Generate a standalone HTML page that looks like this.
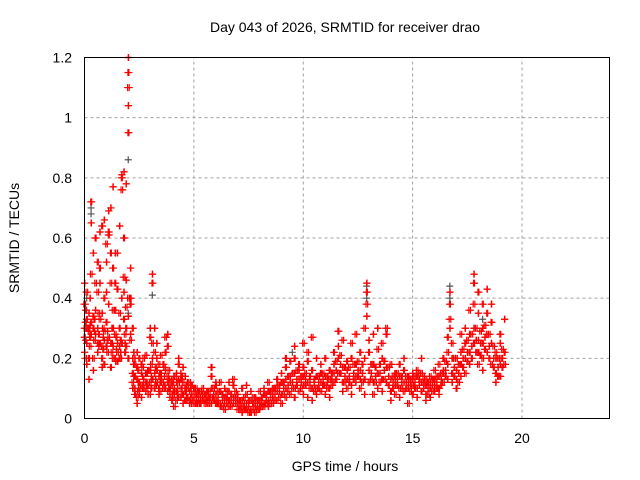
<!DOCTYPE html>
<html><head><meta charset="utf-8">
<style>
html,body{margin:0;padding:0;background:#fff;}
svg{display:block;font-family:"Liberation Sans",sans-serif;}
</style></head>
<body>
<svg id="chart" width="640" height="480" viewBox="0 0 640 480" xmlns="http://www.w3.org/2000/svg">
<text x="345" y="32" font-size="14" text-anchor="middle" fill="#000">Day 043 of 2026, SRMTID for receiver drao</text>
<g id="grid"></g>
<g id="ticks"></g>
<g id="marks"></g>
<rect x="84.5" y="57.5" width="525" height="361" fill="none" stroke="#000" stroke-width="1"/>
<text x="345" y="471" font-size="14" text-anchor="middle">GPS time / hours</text>
<text transform="translate(19,238) rotate(-90)" font-size="14" text-anchor="middle">SRMTID / TECUs</text>
</svg>
<script>
const xTicks=[0,5,10,15,20];
const yTicks=[0,0.2,0.4,0.6,0.8,1,1.2];
const yTickLabels=["0","0.2","0.4","0.6","0.8","1","1.2"];
const grayGroups=[[0.1,.4,.36],[0.3,.7,.68],[2.0,.35,.86],[3.1,.41],[9.5,.22],[12.9,.4,.44],[16.7,.44,.4],[18.2,.33,.3]];
const redGroups=[
[0.0,.22,.3,.38,.45,.27],[0.1,.25,.33,.42,.18,.3],[0.2,.13,.2,.29,.35,.3],[0.3,.28,.32,.48,.65,.72],[0.4,.55,.3,.2,.16,.34],
[0.5,.36,.6,.45,.28],[0.6,.3,.52,.42,.22,.25],[0.7,.62,.25,.33,.45,.5],[0.8,.17,.2,.24,.35,.64],[0.9,.26,.4,.29,.66,.18],
[1.0,.42,.24,.58,.52,.32],[1.1,.69,.61,.27,.38,.62],[1.2,.7,.55,.45,.25,.17],[1.3,.77,.5,.36,.24,.3,.2],[1.4,.55,.45,.28,.2,.36],
[1.5,.25,.19,.22,.55,.43],[1.6,.24,.3,.35,.64,.2],[1.7,.81,.8,.76,.4,.25],[1.8,.82,.6,.47,.42,.33],[1.9,.78,.3,.37,.46,.24],
[2.0,1.2,1.15,1.1,1.04,.95,.4,.34,.2],[2.1,.5,.38,.26,.28,.4],[2.2,.2,.15,.12,.1,.3],[2.3,.1,.08,.18,.2,.14],[2.4,.22,.13,.07,.05,.17],
[2.5,.12,.2,.1,.08],[2.6,.15,.18,.11,.07],[2.7,.12,.1,.2,.13],[2.8,.09,.15,.21,.12],[2.9,.08,.16,.11],
[3.0,.3,.27,.12,.08,.16],[3.1,.48,.45,.25,.2,.13],[3.2,.3,.1,.22,.15],[3.3,.2,.16,.12,.25],[3.4,.14,.1,.18,.08],
[3.5,.15,.13,.21,.12],[3.6,.12,.18,.1],[3.7,.1,.22,.27,.16],[3.8,.28,.24,.14,.09,.12],[3.9,.07,.1,.12,.09],
[4.0,.11,.06,.13,.08],[4.1,.1,.14,.04,.08],[4.2,.12,.09,.06,.15],[4.3,.2,.18,.12,.07],[4.4,.15,.13,.1,.07],
[4.5,.17,.08,.12,.05],[4.6,.14,.1,.06,.09],[4.7,.12,.07,.1],[4.8,.09,.06,.12,.05],[4.9,.08,.11,.06],
[5.0,.07,.1,.05,.09],[5.2,.07,.09,.05,.06,.08],[5.4,.08,.06,.1,.07],[5.6,.06,.09,.07,.05],[5.8,.1,.14,.07,.05,.17],
[6.0,.08,.11,.06,.12,.05],[6.2,.05,.09,.12,.04],[6.4,.1,.07,.03,.05],[6.6,.09,.06,.04,.12],[6.8,.07,.11,.13,.05],
[7.0,.08,.05,.03,.06],[7.2,.06,.1,.04,.02],[7.4,.05,.03,.08,.11],[7.6,.03,.02,.06,.09],[7.8,.04,.07,.02,.05],
[8.0,.03,.06,.09,.05],[8.2,.05,.08,.04,.1],[8.4,.06,.09,.12,.04],[8.6,.07,.1,.05,.08],[8.8,.09,.13,.06,.11],
[9.0,.08,.12,.05,.15],[9.2,.1,.17,.07,.13,.2],[9.4,.12,.19,.08,.14],[9.6,.15,.2,.1,.24,.07],[9.8,.13,.18,.09,.16],
[10.0,.11,.17,.25,.08,.14],[10.2,.12,.19,.22,.07],[10.4,.1,.16,.27,.06],[10.6,.08,.14,.1,.2],[10.8,.12,.15,.09,.18],
[11.0,.14,.2,.11,.08],[11.2,.1,.16,.13,.07],[11.4,.15,.22,.12,.18],[11.6,.2,.29,.15,.24],[11.8,.17,.12,.26,.09],
[12.0,.13,.19,.1,.16],[12.2,.11,.2,.25,.08],[12.4,.14,.18,.28,.12],[12.6,.16,.22,.1,.13],[12.8,.2,.13,.3,.08],
[12.9,.45,.42,.38,.34],[13.0,.16,.22,.12,.26],[13.2,.12,.18,.08,.28],[13.4,.1,.15,.23,.3],[13.6,.2,.13,.25,.09],
[13.8,.17,.28,.3,.12],[14.0,.13,.09,.18,.06],[14.2,.11,.15,.08,.13],[14.4,.14,.18,.1,.07],[14.6,.12,.16,.09,.2],
[14.8,.1,.14,.05,.12],[15.0,.13,.08,.11,.15],[15.2,.1,.14,.16,.07],[15.4,.12,.09,.15,.2],[15.6,.08,.11,.13,.06],
[15.8,.12,.1,.14,.07],[16.0,.09,.13,.16,.11],[16.2,.14,.1,.18,.08],[16.4,.15,.2,.12,.16],[16.6,.18,.27,.22,.13],
[16.7,.42,.38,.33,.3],[16.8,.2,.15,.25,.12],[17.0,.16,.1,.2,.13],[17.2,.22,.18,.28,.14],[17.4,.2,.25,.15,.3],
[17.6,.28,.22,.36,.18],[17.8,.48,.45,.38,.3,.25],[18.0,.35,.22,.18,.26,.42],[18.2,.3,.38,.2,.16,.25],[18.4,.43,.35,.28,.22],
[18.6,.25,.32,.18,.38],[18.8,.2,.15,.22,.12],[19.0,.18,.14,.2,.25,.28],[19.2,.33,.22,.18]
];
const redGroupsExtra=[
[0.05,.26,.32,.2,.36],[0.25,.31,.27,.24,.4],[0.45,.29,.33,.26],[0.65,.24,.28,.35],[0.85,.27,.23,.3],[1.05,.29,.26,.22],[1.25,.3,.25,.22],[1.45,.23,.27,.19],[1.65,.22,.26,.2],[1.85,.25,.22,.28],
[2.25,.14,.18,.1,.22],[2.45,.12,.16,.09],[2.65,.14,.1,.17],[2.85,.12,.15,.1],[3.05,.14,.1,.18],[3.25,.13,.17,.11],[3.45,.12,.15,.09],[3.65,.14,.11,.17],[3.85,.1,.13,.16],
[4.05,.09,.12,.07],[4.25,.1,.08,.13],[4.45,.1,.14,.08],[4.65,.08,.11,.06],[4.85,.07,.1,.05],
[5.1,.06,.08,.1,.05],[5.3,.07,.05,.09],[5.5,.06,.08,.05],[5.7,.07,.05,.09],[5.9,.08,.06,.1],[6.1,.07,.05,.09],[6.3,.06,.08,.04],[6.5,.05,.07,.09],[6.7,.06,.08,.04],[6.9,.05,.07,.09],
[7.1,.04,.06,.03],[7.3,.05,.03,.07],[7.5,.04,.06,.02],[7.7,.03,.05,.07],[7.9,.04,.06,.03],[8.1,.05,.07,.04],[8.3,.06,.08,.05],[8.5,.07,.09,.05],[8.7,.08,.1,.06],[8.9,.09,.11,.07],
[9.1,.1,.12,.08],[9.3,.11,.14,.09],[9.5,.12,.15,.1],[9.7,.13,.11,.16],[9.9,.12,.14,.1],[10.1,.13,.11,.15],[10.3,.12,.14,.1],[10.5,.11,.13,.09],[10.7,.12,.1,.14],[10.9,.13,.11,.15],
[11.1,.12,.14,.1],[11.3,.13,.15,.11],[11.5,.16,.13,.19],[11.7,.18,.15,.21],[11.9,.14,.17,.12],[12.1,.14,.12,.17],[12.3,.15,.13,.18],[12.5,.16,.14,.19],[12.7,.15,.18,.12],
[13.1,.15,.18,.13],[13.3,.14,.17,.12],[13.5,.15,.18,.12],[13.7,.16,.19,.13],[13.9,.14,.11,.17],[14.1,.12,.1,.14],[14.3,.13,.11,.15],[14.5,.12,.14,.1],[14.7,.12,.1,.14],[14.9,.11,.13,.09],
[15.1,.12,.1,.14],[15.3,.11,.13,.15],[15.5,.1,.12,.14],[15.7,.1,.12,.08],[15.9,.11,.13,.09],[16.1,.12,.1,.14],[16.3,.13,.11,.15],[16.5,.16,.14,.19],[16.9,.17,.14,.2],
[17.1,.15,.18,.12],[17.3,.2,.17,.23],[17.5,.22,.19,.26],[17.7,.24,.2,.28],[17.9,.26,.22,.3],[18.1,.25,.21,.29],[18.3,.27,.23,.31],[18.5,.24,.2,.28],[18.7,.2,.17,.24],[18.9,.17,.14,.2],[19.1,.2,.17,.23]
];
const NS="http://www.w3.org/2000/svg";
const X0=84.5,X1=609.5,Y0=418.5,Y1=57.5,XMAX=24,YMAX=1.2;
function xs(v){return X0+(X1-X0)*v/XMAX;}
function ys(v){return Y0-(Y0-Y1)*v/YMAX;}
const grid=document.getElementById('grid'),ticks=document.getElementById('ticks'),marks=document.getElementById('marks');
function mk(tag,attrs,parent){const e=document.createElementNS(NS,tag);for(const k in attrs)e.setAttribute(k,attrs[k]);parent.appendChild(e);return e;}
xTicks.forEach(t=>{
  const x=xs(t);
  if(t>0){const g=mk('line',{x1:x,x2:x,y1:Y0,y2:Y1,stroke:'#a0a0a0','stroke-dasharray':'3,3'},grid);
  
  }
  const l=mk('text',{x:x,y:443,'font-size':14,'text-anchor':'middle'},ticks);
  
  
  l.textContent=String(t);
});
yTicks.forEach((t,i)=>{
  const y=ys(t);
  if(t>0&&t<YMAX){const g=mk('line',{x1:X0,x2:X1,y1:y,y2:y,stroke:'#a0a0a0','stroke-dasharray':'3,3'},grid);
  
  }
  const l=mk('text',{x:72,y:y+5,'font-size':14,'text-anchor':'end'},ticks);
  
  
  l.textContent=yTickLabels[i];
});
function plus(t,v,color){
  const x=xs(t),y=ys(v);
  const p=mk('path',{d:`M${x-3.5},${y}H${x+3.5}M${x},${y-3.5}V${y+3.5}`,stroke:color,'stroke-width':1.2,fill:'none'},marks);
  
  
}
grayGroups.forEach(g=>{for(let i=1;i<g.length;i++)plus(g[0],g[i],'#555');});
function drawRed(groups){groups.forEach(g=>{for(let i=1;i<g.length;i++){const dt=((i%3)-1)*0.03;plus(g[0]+dt,g[i],'#ff0000');plus(g[0]-dt+0.015,g[i],'#ff0000');}});}
drawRed(redGroups);
drawRed(redGroupsExtra);
</script>
</body></html>
